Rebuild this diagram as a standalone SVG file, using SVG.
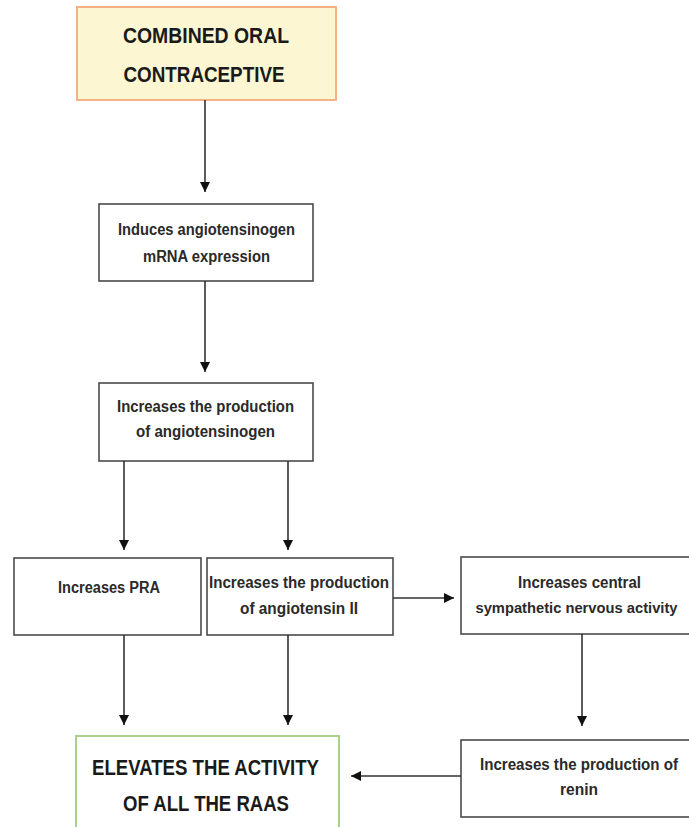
<svg xmlns="http://www.w3.org/2000/svg" width="689" height="827" viewBox="0 0 689 827">
<defs>
<marker id="ah" markerUnits="userSpaceOnUse" markerWidth="10" markerHeight="12" refX="10" refY="5" orient="auto">
<path d="M0,0 L10,5 L0,10 Z" fill="#111"/>
</marker>
<style>
.box{fill:#fff;stroke:#4a4a4a;stroke-width:1.6}
.t{font-family:"Liberation Sans",Arial,sans-serif;font-weight:bold;font-size:16px;fill:#2a2a2a;text-anchor:middle}
.big{font-size:22px;fill:#1a1a1a}
.c{stroke:#333;stroke-width:1.6;fill:none;marker-end:url(#ah)}
</style>
</defs>
<rect width="689" height="827" fill="#fff"/>
<g id="coc">
<rect x="77" y="7" width="259" height="93" fill="#FCF6D3" stroke="#F4B183" stroke-width="2"/>
<text class="t big" x="206" y="43" textLength="166" lengthAdjust="spacingAndGlyphs">COMBINED ORAL</text>
<text class="t big" x="204" y="82" textLength="161" lengthAdjust="spacingAndGlyphs">CONTRACEPTIVE</text>
</g>
<g id="induces">
<rect class="box" x="99" y="204" width="214" height="77"/>
<text class="t" x="206.5" y="235" textLength="177" lengthAdjust="spacingAndGlyphs">Induces angiotensinogen</text>
<text class="t" x="206.5" y="262" textLength="127" lengthAdjust="spacingAndGlyphs">mRNA expression</text>
</g>
<g id="angiotensinogen">
<rect class="box" x="99" y="383" width="214" height="78"/>
<text class="t" x="205.5" y="412" textLength="177" lengthAdjust="spacingAndGlyphs">Increases the production</text>
<text class="t" x="205.5" y="437" textLength="139" lengthAdjust="spacingAndGlyphs">of angiotensinogen</text>
</g>
<g id="pra">
<rect class="box" x="14" y="558" width="187" height="77"/>
<text class="t" x="109" y="593" textLength="102" lengthAdjust="spacingAndGlyphs">Increases PRA</text>
</g>
<g id="angii">
<rect class="box" x="207" y="558" width="186" height="77"/>
<text class="t" x="299" y="588" textLength="180" lengthAdjust="spacingAndGlyphs">Increases the production</text>
<text class="t" x="299" y="614" textLength="118" lengthAdjust="spacingAndGlyphs">of angiotensin II</text>
</g>
<g id="sympathetic">
<rect class="box" x="461" y="557" width="240" height="77"/>
<text class="t" x="579.5" y="588" textLength="123" lengthAdjust="spacingAndGlyphs">Increases central</text>
<text class="t" x="576.5" y="613" font-size="15" style="font-size:15px" textLength="202" lengthAdjust="spacingAndGlyphs">sympathetic nervous activity</text>
</g>
<g id="raas">
<rect x="76" y="736" width="263" height="100" fill="#fff" stroke="#A9D18E" stroke-width="2"/>
<text class="t big" x="205.5" y="775" textLength="227" lengthAdjust="spacingAndGlyphs">ELEVATES THE ACTIVITY</text>
<text class="t big" x="206" y="811" textLength="166" lengthAdjust="spacingAndGlyphs">OF ALL THE RAAS</text>
</g>
<g id="renin">
<rect class="box" x="461" y="740" width="240" height="77"/>
<text class="t" x="579" y="770" textLength="198" lengthAdjust="spacingAndGlyphs">Increases the production of</text>
<text class="t" x="579" y="795" textLength="38" lengthAdjust="spacingAndGlyphs">renin</text>
</g>
<g id="connectors">
<line class="c" x1="205" y1="100" x2="205" y2="192"/>
<line class="c" x1="205" y1="281" x2="205" y2="372"/>
<line class="c" x1="124" y1="461" x2="124" y2="550"/>
<line class="c" x1="288" y1="461" x2="288" y2="550"/>
<line class="c" x1="393" y1="598" x2="454" y2="598"/>
<line class="c" x1="124" y1="635" x2="124" y2="725"/>
<line class="c" x1="288" y1="635" x2="288" y2="725"/>
<line class="c" x1="582" y1="634" x2="582" y2="726"/>
<line class="c" x1="461" y1="776" x2="351" y2="776"/>
</g>
</svg>
